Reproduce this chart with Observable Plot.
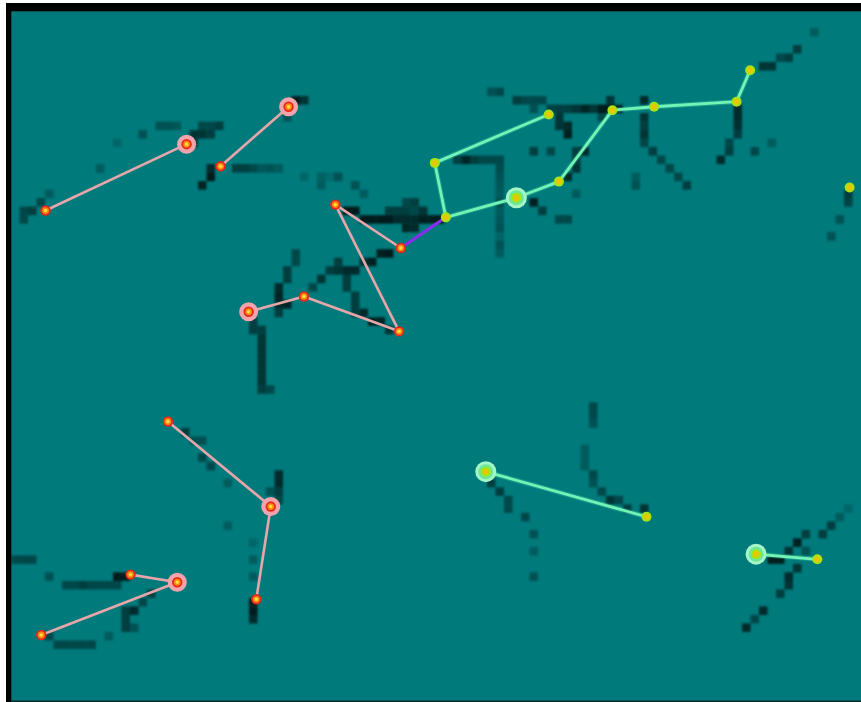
<!DOCTYPE html>
<html>
<head>
<meta charset="utf-8">
<script src="https://cdn.jsdelivr.net/npm/d3@7"></script>
<script src="https://cdn.jsdelivr.net/npm/@observablehq/plot@0.6"></script>
<style>
  html, body { margin: 0; padding: 0; background: #ffffff; }
  #wrap { padding: 3px 0 0 6px; width: 855px; height: 699px; overflow: hidden; }
  #wrap svg { display: block; border-top: 8px solid #000; border-left: 5px solid #000; }
  #wrap svg g[aria-label="rect"] { filter: blur(0.9px); }
  #wrap svg g[aria-label="link"] { filter: blur(0.35px); }
  #wrap svg g[aria-label="dot"] { filter: blur(0.3px); }
</style>
</head>
<body>
<div id="wrap"></div>
<script>
// Heatmap grid: 100 columns x 81 rows; keypoints in the same grid units.
const gridCols = 100;
const gridRows = 81;

// Pink skeleton keypoints [x, y]
const pinkPoints = [
  [4.0, 23.4], [20.6, 15.6], [24.6, 18.2], [32.6, 11.2], [38.1, 22.7],
  [45.8, 27.8], [45.6, 37.6], [34.4, 33.5], [27.9, 35.3], [18.4, 48.2],
  [30.5, 58.2], [28.8, 69.1], [14.0, 66.2], [19.5, 67.1], [3.5, 73.3]
];
const pinkHalo = [1, 3, 8, 10, 13];
const pinkEdges = [[0,1],[2,3],[4,5],[4,6],[7,6],[7,8],[9,10],[10,11],[12,13],[13,14]];

// Green skeleton keypoints [x, y]
const greenPoints = [
  [51.1, 24.2], [49.8, 17.8], [63.2, 12.1], [59.4, 21.9], [64.4, 20.0],
  [70.7, 11.6], [75.6, 11.2], [85.3, 10.6], [86.9, 6.9], [98.6, 20.7],
  [55.8, 54.1], [74.7, 59.4], [87.6, 63.8], [94.8, 64.4]
];
const greenHalo = [3, 10, 12];
const greenEdges = [[0,1],[1,2],[0,3],[3,4],[4,5],[5,6],[6,7],[7,8],[10,11],[12,13]];

// Purple link: pink point 5 -> green point 0
const bridgeEdges = [[5, 0]];

// Dark heatmap cells [column, row, intensity]
const heatCells = [
  [1,23,.5],[2,23,.6],[3,22,.5],[1,24,.5],[4,21,.3],[10,18,.3],[12,15,.2],[15,14,.4],
  [17,13,.4],[18,13,.4],[19,13,.35],[22,13,.5],[23,13,.5],[24,13,.6],[21,14,.7],[22,14,.7],[23,14,.6],[21,15,.6],
  [23,18,.8],[23,19,.95],[22,20,.85],[26,18,.6],[27,18,.6],[28,18,.5],[29,18,.35],[30,18,.4],[31,18,.3],
  [34,19,.2],[36,19,.25],[37,19,.15],[33,10,.9],[34,10,.7],[32,12,.4],
  [56,9,.4],[57,9,.5],[59,10,.6],[60,10,.5],[61,10,.5],[62,10,.5],[63,11,.55],[64,11,.6],[65,11,.6],[66,11,.7],
  [67,11,.85],[68,11,.7],[69,11,.95],[70,10,.7],[70,11,.85],[71,11,.8],[69,12,.5],[61,11,.4],
  [64,12,.7],[64,13,.7],[65,13,.8],[65,14,.9],[63,16,.5],[61,16,.6],[66,16,.6],[67,16,.8],[66,17,.6],[66,18,.7],[65,19,.8],
  [52,17,.6],[53,17,.85],[54,17,.6],[55,17,.5],[56,17,.5],[57,17,.5],
  [57,18,.45],[57,19,.4],[57,20,.35],[57,21,.3],[57,22,.45],[57,23,.3],[57,24,.35],[57,25,.4],[57,26,.2],[57,27,.4],[57,28,.3],
  [61,22,.9],[62,23,.6],[64,24,.5],[65,24,.5],[66,21,.3],[73,19,.3],[73,20,.4],
  [74,10,.8],[74,12,.7],[74,13,.6],[74,14,.7],[74,15,.5],[75,16,.6],[76,17,.5],[77,18,.5],[78,19,.5],[79,20,.6],
  [85,11,.8],[85,12,.8],[85,13,.75],[85,14,.6],[84,15,.5],[84,16,.6],[83,17,.8],[87,16,.5],[89,15,.3],
  [88,6,.7],[89,6,.7],[90,5,.5],[91,5,.6],[92,4,.6],[94,2,.3],[98,21,.6],[98,22,.55],[97,24,.4],[96,26,.4],
  [36,20,.3],[38,19,.4],[40,20,.4],[41,21,.3],
  [39,23,.95],[40,23,.95],[44,23,.6],[45,23,.6],[46,23,.6],[47,23,.5],[48,23,.7],
  [41,24,.95],[42,24,.95],[43,24,.95],[44,24,.95],[45,24,.8],[46,24,.8],[47,24,.8],[48,24,.9],[49,24,.9],[50,24,.95],
  [46,22,.5],[47,22,.6],[46,25,.85],[47,25,.8],
  [44,28,.95],[43,28,.9],[42,29,.9],[41,29,.7],[40,30,.8],[39,30,.8],[38,29,.6],[38,30,.7],[37,30,.6],[36,31,.7],[35,32,.5],
  [39,31,.6],[39,32,.6],[40,33,.6],[40,34,.6],[40,35,.6],[41,35,.8],[42,36,.9],[43,36,.85],[44,37,.7],
  [33,28,.5],[33,29,.5],[32,30,.6],[32,31,.6],[31,32,.8],[31,33,.85],[31,34,.8],[31,35,.6],[32,34,.85],
  [28,36,.6],[28,37,.6],[29,37,.6],[29,38,.7],[29,39,.7],[29,40,.7],[29,41,.7],[29,42,.7],[29,43,.7],[29,44,.6],[30,44,.5],
  [20,49,.6],[21,50,.4],[22,50,.4],[22,52,.5],[23,53,.5],[25,55,.3],[25,60,.3],
  [31,54,.8],[31,55,.8],[31,56,.6],[31,57,.5],[30,56,.4],[28,62,.2],[28,64,.3],[28,66,.3],[28,69,.95],[28,70,.95],[28,71,.8],
  [0,64,.5],[1,64,.5],[2,64,.5],[4,66,.4],[6,67,.5],[7,67,.5],[8,67,.6],[9,67,.5],[10,67,.5],[11,67,.5],[12,67,.5],
  [12,66,.95],[13,66,.95],[15,69,.5],[16,68,.6],[14,70,.8],[13,70,.6],[13,71,.6],[13,72,.6],[14,72,.4],
  [4,73,.5],[5,74,.5],[6,74,.5],[7,74,.5],[8,74,.5],[9,74,.5],[11,73,.3],
  [68,46,.5],[68,47,.5],[68,48,.4],[67,51,.3],[67,52,.3],[67,53,.3],[68,54,.5],[68,55,.4],[69,56,.5],[70,57,.7],[71,57,.5],[72,58,.6],[74,58,.7],
  [56,55,.6],[57,56,.6],[58,57,.5],[58,58,.5],[60,59,.5],[61,61,.4],[61,63,.3],[61,66,.4],
  [89,64,.9],[90,64,.9],[91,63,.7],[92,62,.9],[93,61,.6],[95,61,.6],[96,60,.6],[97,59,.3],[98,58,.2],
  [92,65,.7],[93,63,.4],[91,66,.8],[91,67,.7],[90,68,.6],[88,70,.8],[87,71,.5],[86,72,.8]
];

const teal = "#017a7c";

const toLinks = (edges, a, b) => edges.map(([i, j]) => ({x1: a[i][0], y1: a[i][1], x2: b[j][0], y2: b[j][1]}));
const pinkLinks = toLinks(pinkEdges, pinkPoints, pinkPoints);
const greenLinks = toLinks(greenEdges, greenPoints, greenPoints);
const bridgeLinks = toLinks(bridgeEdges, pinkPoints, greenPoints);
const pinkHaloPts = pinkHalo.map(i => pinkPoints[i]);
const greenHaloPts = greenHalo.map(i => greenPoints[i]);

const chart = Plot.plot({
  width: 850,
  height: 691,
  marginTop: 0, marginRight: 0, marginLeft: 0, marginBottom: 2,
  style: {background: "#0a2a2b"},
  x: {domain: [0, gridCols], axis: null},
  y: {domain: [0, gridRows], reverse: true, axis: null},
  marks: [
    Plot.frame({fill: teal, stroke: null}),
    Plot.rect(heatCells, {x1: d => d[0], x2: d => d[0] + 1, y1: d => d[1], y2: d => d[1] + 1, fill: "#000", fillOpacity: d => d[2] * 0.82}),
    Plot.link(pinkLinks, {x1: "x1", y1: "y1", x2: "x2", y2: "y2", stroke: "#e6a6aa", strokeWidth: 2.6}),
    Plot.link(greenLinks, {x1: "x1", y1: "y1", x2: "x2", y2: "y2", stroke: "#6cf2b4", strokeWidth: 5, strokeOpacity: 0.25}),
    Plot.link(greenLinks, {x1: "x1", y1: "y1", x2: "x2", y2: "y2", stroke: "#72f4b6", strokeWidth: 2.8}),
    Plot.link(bridgeLinks, {x1: "x1", y1: "y1", x2: "x2", y2: "y2", stroke: "#8b2df0", strokeWidth: 3}),
    // halos
    Plot.dot(pinkHaloPts, {x: d => d[0], y: d => d[1], r: 9.5, fill: "#f2a3ab", stroke: null}),
    Plot.dot(greenHaloPts, {x: d => d[0], y: d => d[1], r: 10.5, fill: "#a6f5c6", stroke: null}),
    Plot.dot(greenHaloPts, {x: d => d[0], y: d => d[1], r: 7.5, fill: "#6ae89a", stroke: null}),
    // pink nodes
    Plot.dot(pinkPoints, {x: d => d[0], y: d => d[1], r: 5.2, fill: "#e8261a", stroke: null}),
    Plot.dot(pinkPoints, {x: d => d[0], y: d => d[1], r: 3.4, fill: "#ff8a10", stroke: null}),
    Plot.dot(pinkPoints, {x: d => d[0], y: d => d[1], r: 1.7, fill: "#ffe040", stroke: null}),
    // green nodes
    Plot.dot(greenPoints, {x: d => d[0], y: d => d[1], r: 5, fill: "#a8e414", stroke: null}),
    Plot.dot(greenPoints, {x: d => d[0], y: d => d[1], r: 3, fill: "#e6c800", stroke: null})
  ]
});
document.getElementById("wrap").appendChild(chart);
</script>
</body>
</html>
